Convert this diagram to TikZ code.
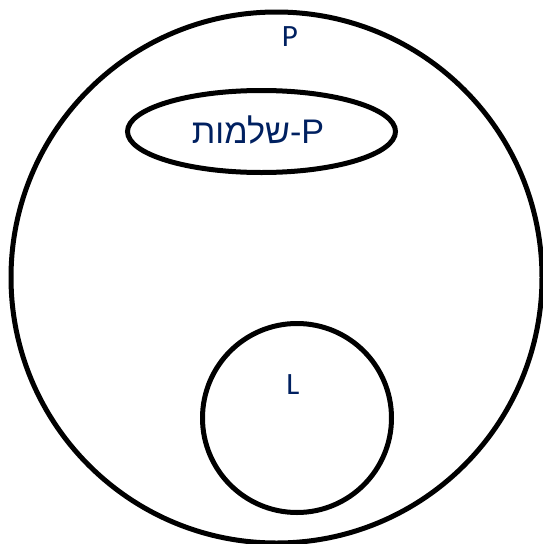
\documentclass[tikz,border=0pt]{standalone}
\usepackage{fontspec}
\setmainfont{Carlito}
\newfontfamily\hebrewfont[Script=Hebrew,Scale=1.1]{Liberation Sans}
\TeXXeTstate=1
\usepackage{tikz}
\usetikzlibrary{shapes.geometric,positioning}
\definecolor{labelnavy}{HTML}{002060}
\newcommand{\SetLabelFont}{\fontsize{31pt}{35pt}\selectfont}
\tikzset{
  set border/.style={draw=black, line width=5pt, inner sep=0pt},
  set circle/.style={set border, circle},
  set ellipse/.style={set border, ellipse},
  set label/.style={text=labelnavy, font=\SetLabelFont, inner sep=0pt}
}
\begin{document}
\begin{tikzpicture}[x=1pt,y=-1pt]
  \useasboundingbox (0,0) rectangle (543,544);
  % outer class and the two sub-classes
  \node[set circle, minimum size=531pt] (class-p) at (276.5,277.5) {};
  \node[set ellipse, minimum width=268pt, minimum height=82pt] (class-complete) at (261.5,131.5) {};
  \node[set circle, minimum size=189pt] (class-l) at (297,418) {};
  % labels
  \node[set label] (label-p) at (290,37) {P};
  \node[set label] (label-complete) at (258,130) {\hebrewfont\beginR\beginL P\endL-שלמות\endR};
  \node[set label] (label-l) at (293,385) {L};
\end{tikzpicture}
\end{document}
